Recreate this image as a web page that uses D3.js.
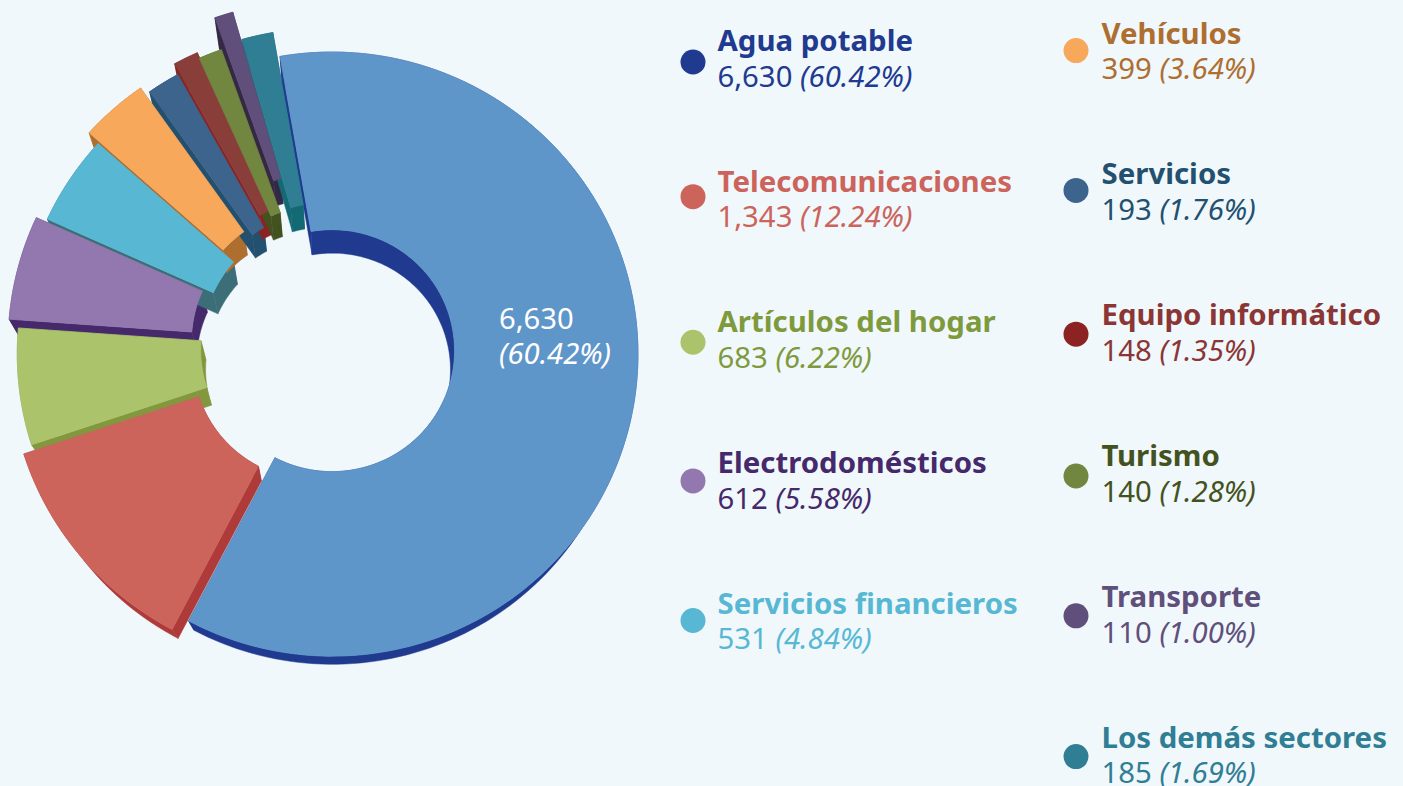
<!DOCTYPE html>
<html><head><meta charset="utf-8">
<script src="https://cdn.jsdelivr.net/npm/d3@7"></script>
<style>
html,body{margin:0;padding:0;background:#F0F8FC;overflow:hidden}
svg{display:block}
text{font-family:"Noto Sans",sans-serif}
</style></head><body>
<script>
const categories=["Agua potable","Telecomunicaciones","Artículos del hogar","Electrodomésticos","Servicios financieros","Vehículos","Servicios","Equipo informático","Turismo","Transporte","Los demás sectores"];
const values=[6630,1343,683,612,531,399,193,148,140,110,185];
const percents=["60.42%","12.24%","6.22%","5.58%","4.84%","3.64%","1.76%","1.35%","1.28%","1.00%","1.69%"];
const faceColors=["#5F96CA","#CC645C","#ABC46C","#9378AF","#58B8D3","#F7A85A","#3D648C","#8A3E3A","#71873F","#604F7B","#307E94"];
const wallColors=["#1F3A8F","#AE3A3A","#83973F","#45296A","#3C6E78","#AE6E30","#24506F","#8B2323","#445220","#352845","#136A75"];
const dotColors=["#1F3A8F","#CC645C","#ABC46C","#9378AF","#58B8D3","#F7A85A","#3D648C","#8B2323","#71873F","#604F7B","#307E94"];
const textColors=["#1F3A8F","#CC645C","#7F9A3C","#45296A","#58B8D3","#AE6E30","#24506F","#8B3535","#445220","#604F7B","#307E94"];
const shiftX=[0,-16.5,-8.8,-18,-7,-17.5,-9,-13,-11,-17.5,-7.8];
const shiftY=[0,8.5,-0.7,-9.5,-8,-20,-17,-29.5,-24,-55.8,-26.7];
const outerTrim=[0,0,0,0,0,2,3,5,5,5,3];
const dotOffsets=[11,5,10,8,7,7,6,9,10,9,9];

const W=1403,H=786;
const svg=d3.select("body").append("svg").attr("width",W).attr("height",H);
svg.append("rect").attr("width",W).attr("height",H).attr("fill","#F0F8FC");

const cx=332,cy=350,R=302,r=121,persp=4.5e-5,sx=1.013;
const vanish=[340,882],depth=0.036;
const rad=d=>d*Math.PI/180;
const project=(X,Y)=>{const w=1/(1+Y*persp);return [cx+X*w*sx,cy-Y*w];};
const toBase=p=>[p[0]+(vanish[0]-p[0])*depth,p[1]+(vanish[1]-p[1])*depth];

const pie=d3.pie().sort(null).startAngle(rad(-9.9)).endAngle(rad(350.1));
const arcs=pie(values);
const line=d3.line();

function arcPts(a,rr,from,to){
  const n=Math.max(4,Math.ceil(Math.abs(to-from)/rad(1.5)));
  return d3.range(n+1).map(i=>{const t=from+(to-from)*i/n;
    const p=project(rr*Math.sin(t),rr*Math.cos(t));
    return [p[0]+shiftX[a.index],p[1]+shiftY[a.index]];});
}
const g=svg.append("g");
const walls=g.append("g"),faces=g.append("g");
arcs.forEach(a=>{
  const outer=arcPts(a,R-outerTrim[a.index],a.startAngle,a.endAngle);
  const inner=arcPts(a,r,a.endAngle,a.startAngle);
  const fill=wallColors[a.index];
  const strip=pts=>pts.concat(pts.map(toBase).reverse());
  [outer,inner,[inner[inner.length-1],outer[0]],[outer[outer.length-1],inner[0]]].forEach(s=>{
    walls.append("path").attr("d",line(strip(s))+"Z").attr("fill",fill).attr("stroke",fill).attr("stroke-width",.5);
  });
});
arcs.forEach(a=>{
  const outer=arcPts(a,R-outerTrim[a.index],a.startAngle,a.endAngle);
  const inner=arcPts(a,r,a.endAngle,a.startAngle);
  faces.append("path").attr("d",line(outer.concat(inner))+"Z").attr("fill",faceColors[a.index])
    .attr("stroke",faceColors[a.index]).attr("stroke-width",.8);
});

// label on the largest slice
const fmt=d3.format(",");
const lab=svg.append("g").attr("fill","#fff").attr("font-size",29.2);
lab.append("text").attr("x",499).attr("y",329).text(fmt(values[0]));
lab.append("text").attr("x",499).attr("y",364).attr("font-style","italic").text("("+percents[0]+")");

// legend
const yCol1=d3.scalePoint().domain(d3.range(5)).range([51,613.5]);
const yCol2=d3.scalePoint().domain(d3.range(6)).range([43.6,747.6]);
const legend=svg.append("g");
categories.forEach((c,i)=>{
  const col=i<5?0:1, row=i<5?i:i-5;
  const y=col?yCol2(row):yCol1(row);
  const tx=col?1101.5:717.5, dx=col?1076:693;
  legend.append("circle").attr("cx",dx).attr("cy",y+dotOffsets[i]).attr("r",12.5).attr("fill",dotColors[i]);
  legend.append("text").attr("x",tx).attr("y",y).attr("font-size",29.4).attr("font-weight",700).attr("fill",textColors[i]).text(c);
  const t=legend.append("text").attr("x",tx).attr("y",y+35.7).attr("font-size",29.3).attr("fill",textColors[i]);
  t.append("tspan").text(fmt(values[i])+" ");
  t.append("tspan").attr("font-style","italic").text("("+percents[i]+")");
});
</script></body></html>
